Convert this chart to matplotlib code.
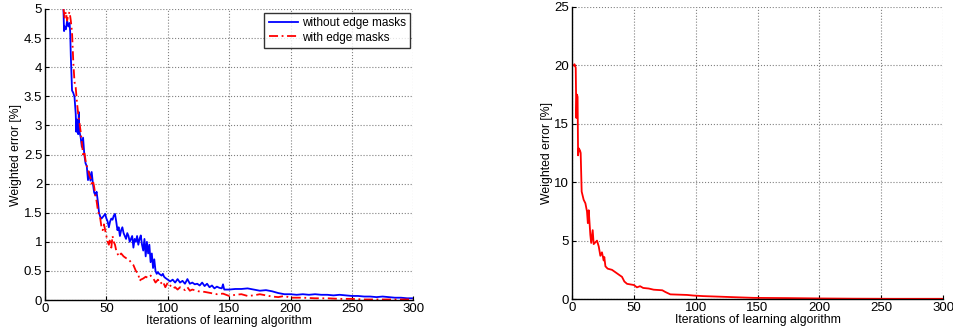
import matplotlib
matplotlib.use("Agg")
import matplotlib.pyplot as plt

plt.rcParams['font.family'] = ['Liberation Sans', 'DejaVu Sans']

# left panel - without edge masks (blue)
x_plain = [14.5, 15, 15.5, 16, 17, 18, 19, 20, 20.5, 21, 21.5, 22, 23, 24, 25, 25.5, 26, 27, 27.5,
           28, 29, 30, 31, 32, 33, 34, 35, 36, 37, 38, 39, 40, 41, 42, 43, 44, 45, 46, 48, 49,
           50, 51, 52, 53, 54, 55, 56, 57, 58, 59, 60, 61, 62, 63, 64, 65, 66, 67, 68, 69,
           70, 71, 72, 73, 74, 75, 76, 77, 78, 79, 80, 81, 82, 83, 84, 85, 86, 87, 88, 89,
           90, 91, 92, 93, 95, 96, 97, 98, 100, 102, 104, 106, 108, 110, 112, 114, 116, 118,
           120, 122, 124, 126, 128, 130, 132, 134, 136, 138, 140, 142, 144, 145, 146, 150,
           155, 160, 165, 170, 175, 180, 185, 190, 195, 200, 205, 210, 215, 220, 225, 230,
           235, 240, 245, 250, 255, 260, 265, 270, 275, 280, 285, 290, 295, 300]
y_plain = [5.3, 5.0, 4.62, 4.7, 4.65, 4.8, 4.7, 4.76, 4.6, 4.2, 3.9, 3.6, 3.56, 3.49, 3.2, 2.89,
           3.1, 2.85, 3.23, 2.9, 2.8, 2.63, 2.79, 2.5, 2.35, 2.3, 2.06, 2.2, 2.05, 2.2, 2.0,
           1.85, 1.8, 1.86, 1.7, 1.5, 1.43, 1.4, 1.45, 1.48, 1.4, 1.35, 1.25, 1.35, 1.4, 1.38,
           1.45, 1.48, 1.35, 1.2, 1.25, 1.1, 1.2, 1.25, 1.15, 1.1, 1.05, 1.15, 1.1, 1.0,
           1.05, 1.1, 0.9, 1.05, 1.0, 1.1, 0.95, 1.05, 1.11, 0.95, 0.85, 1.05, 0.75, 1.0,
           0.8, 0.95, 0.65, 0.8, 0.55, 0.7, 0.5, 0.45, 0.48, 0.45, 0.42, 0.45, 0.4, 0.38,
           0.35, 0.32, 0.35, 0.3, 0.36, 0.3, 0.33, 0.28, 0.36, 0.28, 0.3, 0.27, 0.28, 0.25,
           0.3, 0.24, 0.28, 0.22, 0.25, 0.2, 0.23, 0.21, 0.2, 0.27, 0.18, 0.18, 0.19, 0.19,
           0.2, 0.18, 0.16, 0.17, 0.15, 0.12, 0.1, 0.1, 0.09, 0.1, 0.09, 0.1, 0.09, 0.09,
           0.08, 0.09, 0.08, 0.07, 0.07, 0.06, 0.06, 0.05, 0.06, 0.05, 0.04, 0.04, 0.03, 0.03]

# left panel - with edge masks (red)
x_masks = [15, 16, 17, 18, 19, 20, 21, 22, 23, 24, 25, 26, 27, 28, 29, 30, 31, 32, 33, 34, 35,
           36, 37, 38, 39, 40, 41, 42, 43, 44, 45, 46, 47, 48, 49, 50, 51, 52, 53, 54, 55,
           56, 57, 58, 59, 60, 62, 64, 66, 68, 70, 72, 74, 76, 77, 78, 80, 82, 84, 86, 88,
           90, 92, 94, 96, 98, 100, 102, 104, 106, 108, 110, 112, 114, 116, 118, 120, 125,
           130, 135, 140, 145, 150, 155, 160, 165, 170, 175, 180, 185, 190, 195, 200, 210,
           220, 230, 240, 250, 260, 270, 280, 290, 300]
y_masks = [5.0, 4.85, 4.95, 4.8, 4.9, 4.95, 4.8, 4.6, 4.1, 3.75, 3.65, 3.4, 3.2, 3.05, 2.9, 2.7,
           2.5, 2.55, 2.4, 2.3, 2.25, 2.15, 2.1, 2.0, 2.05, 1.95, 1.8, 1.7, 1.55, 1.45, 1.4,
           1.25, 1.2, 1.3, 1.2, 1.1, 1.0, 0.95, 1.05, 0.9, 1.1, 1.0, 0.95, 0.85, 0.8, 0.75,
           0.8, 0.75, 0.72, 0.7, 0.65, 0.6, 0.5, 0.45, 0.33, 0.35, 0.37, 0.4, 0.38, 0.42,
           0.38, 0.3, 0.35, 0.28, 0.32, 0.22, 0.3, 0.25, 0.2, 0.22, 0.18, 0.22, 0.2, 0.17,
           0.22, 0.16, 0.18, 0.15, 0.14, 0.12, 0.1, 0.11, 0.07, 0.09, 0.1, 0.07, 0.08, 0.1,
           0.08, 0.06, 0.05, 0.07, 0.04, 0.04, 0.03, 0.03, 0.02, 0.02, 0.01, 0.01, 0.01,
           0.01, 0.01]

# right panel (red)
x_right = [1.5, 2, 3, 3.5, 4, 4.5, 4.9, 5.5, 6.5, 7, 7.8, 9.4, 10.8, 12.1, 12.8, 13.5, 14.8,
           15.5, 16.7, 17.5, 20.2, 21.6, 22.9, 24.2, 25.6, 26.1, 27, 28.8, 32.3, 35, 39,
           40.4, 42.3, 44.5, 50, 52.5, 55, 57.5, 62, 66, 73, 75.5, 79.5, 93, 98, 106, 120,
           133, 147, 174, 201, 228, 260, 300]
y_right = [20.0, 20.1, 19.8, 15.5, 17.5, 17.3, 12.3, 12.9, 12.7, 12.5, 9.2, 8.5, 8.2, 7.5, 6.5,
           7.6, 5.5, 4.8, 5.9, 4.7, 5.0, 4.5, 3.7, 4.0, 3.3, 3.6, 2.8, 2.6, 2.5, 2.3, 2.0,
           1.9, 1.5, 1.3, 1.2, 1.0, 1.1, 0.95, 0.9, 0.8, 0.75, 0.6, 0.4, 0.35, 0.3, 0.25,
           0.2, 0.15, 0.1, 0.08, 0.05, 0.03, 0.02, 0.02]

x_ticks = [0, 50, 100, 150, 200, 250, 300]
y_ticks_left = [0, 0.5, 1, 1.5, 2, 2.5, 3, 3.5, 4, 4.5, 5]
y_ticks_right = [0, 5, 10, 15, 20, 25]

fig = plt.figure(figsize=(9.54, 3.33), dpi=100)
axl = fig.add_axes([0.0472, 0.099, 0.386, 0.874])
axr = fig.add_axes([0.5996, 0.102, 0.389, 0.877])

def style(ax, yticks, ylim):
    ax.set_xlim(0, 300)
    ax.set_ylim(*ylim)
    ax.set_xticks(x_ticks)
    ax.set_yticks(yticks)
    ax.set_yticklabels([('%g' % v) for v in yticks])
    ax.grid(True, linestyle=':', color='0.5', linewidth=0.8)
    ax.set_axisbelow(True)
    for s in ['top', 'right']:
        ax.spines[s].set_visible(False)
    for s in ['left', 'bottom']:
        ax.spines[s].set_linewidth(1.0)
    ax.tick_params(direction='in', labelsize=9.5, length=3, pad=2)
    ax.set_xlabel('Iterations of learning algorithm', fontsize=8.8, labelpad=0)
    ax.set_ylabel('Weighted error [%]', fontsize=8.8, labelpad=1)

axl.plot(x_plain, y_plain, color='#0000ff', linewidth=1.3, label='without edge masks', clip_on=True)
axl.plot(x_masks, y_masks, color='#ff0000', linewidth=1.3, dashes=(5, 2, 1, 2), label='with edge masks')
style(axl, y_ticks_left, (0, 5))
leg = axl.legend(loc='upper right', fontsize=8.5, frameon=True, fancybox=False,
                 borderpad=0.35, handlelength=2.5, handletextpad=0.3, labelspacing=0.25,
                 borderaxespad=0.3)
leg.get_frame().set_edgecolor('black')
leg.get_frame().set_linewidth(1.0)

axr.plot(x_right, y_right, color='#ff0000', linewidth=1.3)
style(axr, y_ticks_right, (0, 25))

fig.savefig('out.png', dpi=100)
